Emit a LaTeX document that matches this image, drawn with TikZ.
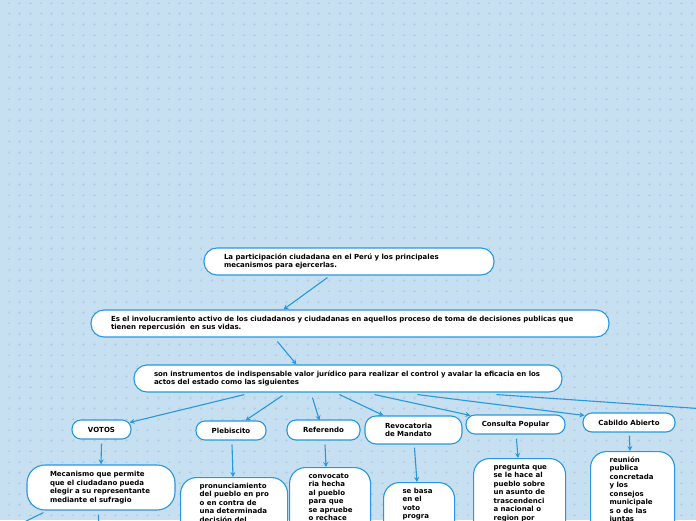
\documentclass[tikz,border=0pt]{standalone}
\usepackage{fontspec}
\setmainfont{DejaVu Sans}
\usetikzlibrary{arrows.meta,calc}
\definecolor{bgc}{RGB}{198,223,241}
\definecolor{dotc}{RGB}{180,207,230}
\definecolor{bcol}{RGB}{40,152,222}
\newcommand{\fsz}{\fontsize{7}{8.5}\selectfont\bfseries}
\newcommand{\mytb}[3]{\parbox[c][#1pt][t]{#2pt}{\begin{tabular}[t]{@{}l@{}}#3\end{tabular}}}
\tikzset{
  bx/.style={draw=bcol, fill=white, line width=1.1pt, rounded corners=#1, inner sep=0pt, font=\fsz},
  bx/.default=9pt,
  ar/.style={draw=bcol, line width=1.1pt, -{Stealth[length=5pt,width=5pt]}},
}
\begin{document}
\begin{tikzpicture}[x=1pt,y=-1pt]
\useasboundingbox (0,0) rectangle (696,520);
\fill[bgc] (0,0) rectangle (696,520);
\draw[dotc, line width=0.45pt] \foreach \x in {9,19.67,...,696}{\foreach \y in {3,13.67,...,520}{(\x-1.3,\y) -- (\x+1.3,\y) (\x,\y-1.3) -- (\x,\y+1.3)}};

% top boxes
\node[bx=13pt, minimum height=27, text width=250, align=left, inner xsep=20pt] (t1) at (349,261.5)
  {La participación ciudadana en el Perú y los principales\\ mecanismos para ejercerlas.};
\node[bx=13pt, minimum height=27, text width=478, align=left, inner xsep=20pt] (t2) at (350,323.5)
  {Es el involucramiento activo de los ciudadanos y ciudadanas en aquellos proceso de toma de decisiones publicas que\\ tienen repercusión\ \ en sus vidas.};
\node[bx=13pt, minimum height=27, text width=388, align=left, inner xsep=20pt] (t3) at (348,378.5)
  {son instrumentos de indispensable valor jurídico para realizar el control y avalar la eficacia en los\\ actos del estado como las siguientes};

% mechanisms
\node[bx, minimum width=59, minimum height=19] (votos) at (101.5,429.5) {VOTOS};
\node[bx, minimum width=70, minimum height=19] (pleb) at (231,430.5) {Plebiscito};
\node[bx, minimum width=73, minimum height=20] (ref) at (323.5,430) {Referendo};
\node[bx=11pt, minimum height=28, text width=57, align=left, inner xsep=20pt] (rev) at (413.5,430) {Revocatoria\\ de Mandato};
\node[bx, minimum width=99, minimum height=19] (cons) at (515.5,424.5) {Consulta Popular};
\node[bx, minimum width=92, minimum height=19] (cab) at (629,422.5) {Cabildo Abierto};

% descriptions
\node[bx=18pt, minimum height=45, text width=102, align=left, inner xsep=23pt] (mec) at (101,487.5)
  {Mecanismo que permite\\ que el ciudadano pueda\\ elegir a su representante\\ mediante el sufragio};
\node[bx=16pt, anchor=north west, inner xsep=19pt, inner ysep=4.5pt] (pron) at (180,477)
  {\mytb{60}{69}{pronunciamiento\\ del pueblo en pro\\ o en contra de\\ una determinada\\ decisión del}};
\node[bx=16pt, anchor=north west, inner xsep=19pt, inner ysep=4.5pt] (conv) at (289,467)
  {\mytb{70}{43}{convocato\\ ria hecha\\ al pueblo\\ para que\\ se apruebe\\ o rechace}};
\node[bx=16pt, anchor=north west, inner xsep=19pt, inner ysep=4.5pt] (seb) at (383,482)
  {\mytb{60}{33}{se basa\\ en el\\ voto\\ progra}};
\node[bx=16pt, anchor=north west, inner xsep=20pt, inner ysep=4.5pt] (preg) at (473,458)
  {\mytb{80}{52}{pregunta que\\ se le hace al\\ pueblo sobre\\ un asunto de\\ trascendenci\\ a nacional o\\ region por}};
\node[bx=16pt, anchor=north west, inner xsep=19pt, inner ysep=4.5pt] (reun) at (590,451)
  {\mytb{90}{46}{reunión\\ publica\\ concretada\\ y los\\ consejos\\ municipale\\ s o de las\\ juntas}};

\coordinate (offr) at (720,410);
\coordinate (offl) at (8,530);
\coordinate (offd) at (99,540);

% connectors
\draw[ar] ([shift={(124,2)}]t1.south west) -- ([shift={(193,0)}]t2.north west);
\draw[ar] ([shift={(187,4)}]t2.south west) -- ([shift={(163,0)}]t3.north west);
\draw[ar] ([shift={(111,2)}]t3.south west) -- ([shift={(-2,3)}]votos.north east);
\draw[ar] ([shift={(149,3)}]t3.south west) -- ([shift={(50,0)}]pleb.north west);
\draw[ar] ([shift={(179,5)}]t3.south west) -- ([shift={(33,1)}]ref.north west);
\draw[ar] ([shift={(206,2)}]t3.south west) -- ([shift={(19,0)}]rev.north west);
\draw[ar] ([shift={(241,2)}]t3.south west) -- ([shift={(5,1)}]cons.north west);
\draw[ar] ([shift={(284,2)}]t3.south west) -- ([shift={(2,3)}]cab.north west);
\draw[ar] ([shift={(363,2)}]t3.south west) -- (offr);
\draw[ar] ([shift={(0,4)}]votos.south) -- (mec.north);
\draw[ar] ([shift={(1,4)}]pleb.south) -- ([shift={(53,0)}]pron.north west);
\draw[ar] ([shift={(1.5,4)}]ref.south) -- ([shift={(37,0)}]conv.north west);
\draw[ar] ([shift={(50,3)}]rev.south west) -- ([shift={(34,0)}]seb.north west);
\draw[ar] ([shift={(51,4)}]cons.south west) -- ([shift={(45,0)}]preg.north west);
\draw[ar] ([shift={(47,3)}]cab.south west) -- ([shift={(40,0)}]reun.north west);
\draw[ar] ([shift={(17,2)}]mec.south west) -- (offl);
\draw[ar] ([shift={(72,4)}]mec.south west) -- (offd);
\end{tikzpicture}
\end{document}
